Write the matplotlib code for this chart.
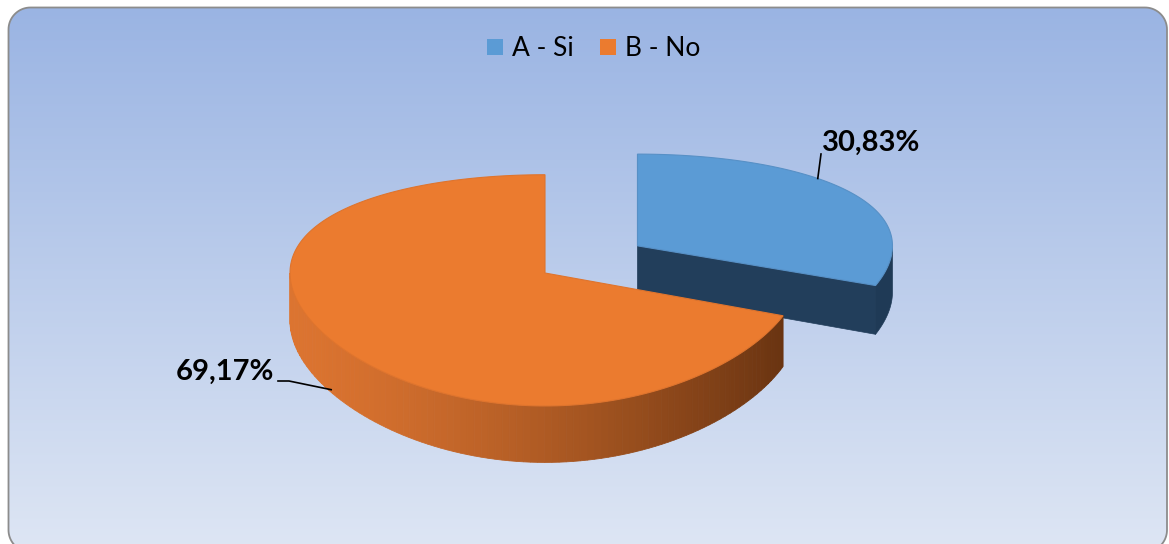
import numpy as np
import matplotlib.pyplot as plt
from matplotlib.patches import Polygon, Rectangle
from matplotlib.colors import to_rgb

labels = ['A - Si', 'B - No']
shares = [30.83, 69.17]  # percent
top_colors = ['#5B9BD5', '#EB7B2F']
pct_text = ['30,83%', '69,17%']

W, H = 1169, 544
cx, cy = 545, 273     # centre of the pie (pixels)
RX, RY = 255, 113     # radii of the top face
K = 0.15              # perspective strength in depth (farther = flatter)
DEPTH = 48            # thickness of the disc
explode = [0.44, 0.0]

fig = plt.figure(figsize=(W/100, H/100), dpi=100)
ax = fig.add_axes([0, 0, 1, 1])
ax.set_xlim(0, W)
ax.set_ylim(H, 0)
ax.axis('off')


def rounded_rect(x0, y0, x1, y1, r, n=20):
    pts = []
    for (ccx, ccy, a_start) in [(x1-r, y0+r, -90), (x1-r, y1-r, 0), (x0+r, y1-r, 90), (x0+r, y0+r, 180)]:
        a = np.radians(np.linspace(a_start, a_start+90, n))
        pts += list(zip(ccx + r*np.cos(a), ccy + r*np.sin(a)))
    return np.array(pts)


# chart area: rounded box with a vertical blue gradient
box = Polygon(rounded_rect(8.5, 7.5, 1167, 552, 22), closed=True,
              facecolor='none', edgecolor='#8C8C8C', lw=1.3, zorder=3)
ax.add_patch(box)
top_c = np.array(to_rgb('#9AB4E3'))
bot_c = np.array(to_rgb('#DEE6F4'))
t = np.linspace(0, 1, 256)[:, None, None]
grad = top_c*(1-t) + bot_c*t
im = ax.imshow(np.repeat(grad, 2, axis=1), extent=[8, 1167, 552, 7], aspect='auto', zorder=0)
im.set_clip_path(box)


def proj(u, v, dz=0.0):
    # disc coords (u right, v away from viewer) -> pixels
    s = 1.0/(1.0 + K*v)
    return cx + RX*u, cy - RY*v*s + dz*s


def arc(a0, a1, ou=0.0, ov=0.0, dz=0.0, n=200):
    a = np.radians(np.linspace(a0, a1, n))
    x, y = proj(ou + np.cos(a), ov + np.sin(a), dz)
    return np.column_stack([x, y])


def lerp(c0, c1, s):
    return tuple(np.array(to_rgb(c0))*(1-s) + np.array(to_rgb(c1))*s)


# slice angles: start at 12 o'clock, going clockwise
angles = []
start = 90.0
for s in shares:
    span = s/100*360
    angles.append((start - span, start))
    start -= span

# blue slice (exploded, drawn first, it sits behind)
a0, a1 = angles[0]
mid = np.radians((a0 + a1)/2)
bu, bv = explode[0]*np.cos(mid), explode[0]*np.sin(mid)
eu, ev = bu + np.cos(np.radians(a0)), bv + np.sin(np.radians(a0))
face = [proj(bu, bv), proj(eu, ev), proj(eu, ev, DEPTH), proj(bu, bv, DEPTH)]
ax.add_patch(Polygon(face, closed=True, facecolor='#223E5B', edgecolor='#223E5B', lw=0.5, zorder=2))
if a0 < 0:
    side = np.vstack([arc(a0, 0, bu, bv), arc(0, a0, bu, bv, DEPTH)])
    ax.add_patch(Polygon(side, closed=True, facecolor='#1F3A56', edgecolor='#1F3A56', lw=0.5, zorder=2))
top = np.vstack([proj(bu, bv), arc(a0, a1, bu, bv)])
ax.add_patch(Polygon(top, closed=True, facecolor=top_colors[0], edgecolor='#5790C6', lw=0.8, zorder=2.1))

# orange slice runs counter-clockwise from 12 o'clock round to the blue cut
o0, o1 = angles[1][0] + 360, angles[1][1] + 360   # 90 .. 339 deg
# front wall shaded from light at the left to dark at the right
steps = np.linspace(180, o1, 100)
xl, xr = cx - RX, arc(o1, o1, n=1)[0, 0]
for i in range(len(steps)-1):
    seg = np.vstack([arc(steps[i], steps[i+1], n=6),
                     arc(steps[i+1], steps[i], dz=DEPTH, n=6)])
    xm = seg[:, 0].mean()
    s = np.clip((xm - xl)/(xr - xl), 0, 1)**1.4
    col = lerp('#DC7430', '#6A3411', s)
    ax.add_patch(Polygon(seg, closed=True, facecolor=col, edgecolor=col, lw=0.6, zorder=2.2))
top = np.vstack([proj(0, 0), arc(o0, o1)])
ax.add_patch(Polygon(top, closed=True, facecolor=top_colors[1], edgecolor='#DF742D', lw=0.8, zorder=2.3))

# value labels with leader lines
lx, ly = arc(45, 45, bu, bv, n=1)[0]
ax.plot([lx, 821], [ly, 154], color='black', lw=1.2, zorder=4)
ax.text(822, 143, pct_text[0], fontsize=21, fontweight='bold', family='Lato',
        ha='left', va='center', zorder=4)
px, py = arc(213, 213, dz=DEPTH*0.95, n=1)[0]
ax.plot([px, 289, 278], [py, 381, 381], color='black', lw=1.2, zorder=4)
ax.text(274, 372, pct_text[1], fontsize=21, fontweight='bold', family='Lato',
        ha='right', va='center', zorder=4)

# legend across the top
lx0 = 487
for lab, col in zip(labels, top_colors):
    ax.add_patch(Rectangle((lx0, 39), 16, 16, facecolor=col, edgecolor='none', zorder=4))
    ax.text(lx0 + 25, 48, lab, fontsize=19, family='Lato', ha='left', va='center', zorder=4)
    lx0 += 113

fig.savefig('out.png', dpi=100)
